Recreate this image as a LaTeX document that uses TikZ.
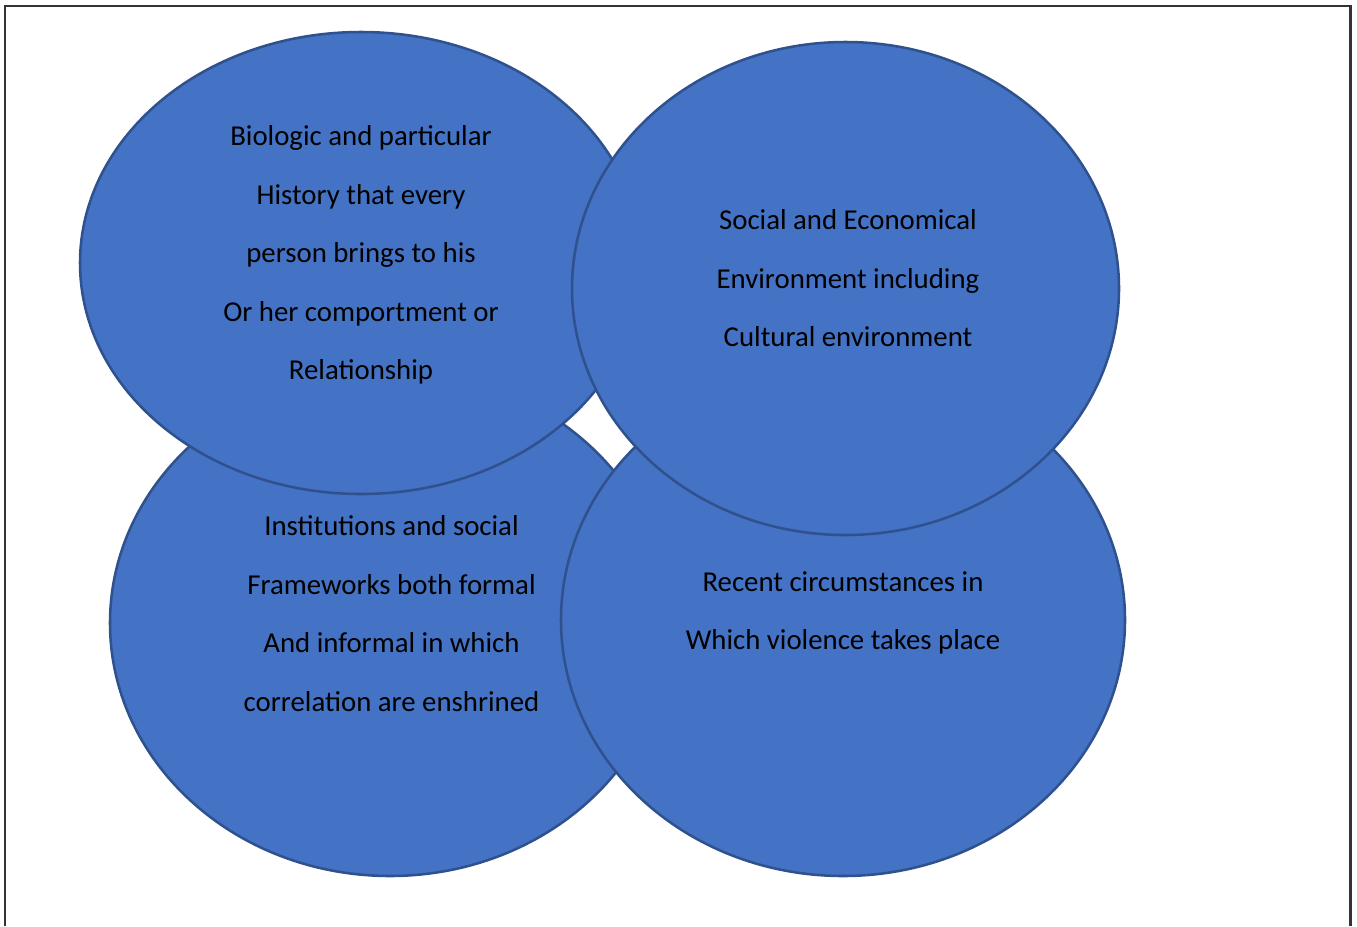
\documentclass[tikz,border=0pt]{standalone}
\usepackage{fontspec}
\setmainfont{Carlito}
\usetikzlibrary{shapes.geometric}
\definecolor{blobfill}{HTML}{4472C4}
\definecolor{blobline}{HTML}{2F528F}
\definecolor{framec}{HTML}{333333}
\tikzset{
  blob/.style={ellipse, fill=blobfill, draw=blobline, line width=1.9pt, inner sep=0pt},
  blobtext/.style={align=center, inner sep=0pt, font=\fontsize{21.6}{43.9}\selectfont, text=black},
}
\begin{document}
\begin{tikzpicture}[x=0.75pt,y=-0.75pt]
\useasboundingbox (0,0) rectangle (1357,926);
% frame
\coordinate (f1) at (5,926);
\coordinate (f2) at (5,6);
\coordinate (f3) at (1350.5,6);
\coordinate (f4) at (1350.5,926);
\draw[framec, line width=1.6pt] (f1) -- (f2) -- (f3) -- (f4);
% ellipses (drawing order: BL, BR, TL, TR)
\node[blob, minimum width=420pt, minimum height=379.5pt] (bl) at (390,623) {};
\node[blob, minimum width=423pt, minimum height=384pt] (br) at (843,620) {};
\node[blob, minimum width=421.5pt, minimum height=346.5pt] (tl) at (361,263) {};
\node[blob, minimum width=410.25pt, minimum height=369.75pt] (tr) at (845.5,288.5) {};
% texts
\node[blobtext] (tltext) at (361,255) {Biologic and particular\\History that every\\person brings to his\\Or her comportment or\\Relationship};
\node[blobtext] (trtext) at (848,278.5) {Social and Economical\\Environment including\\Cultural environment};
\node[blobtext] (bltext) at (391.5,613.5) {Institutions and social\\Frameworks both formal\\And informal in which\\correlation are enshrined};
\node[blobtext] (brtext) at (843,613) {Recent circumstances in\\Which violence takes place};
\end{tikzpicture}
\end{document}
